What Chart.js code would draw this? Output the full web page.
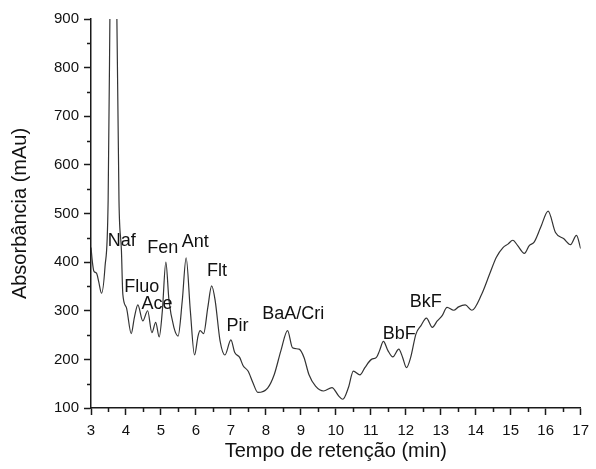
<!DOCTYPE html>
<html lang="pt">
<head>
<meta charset="UTF-8">
<title>Cromatograma</title>
<script src="https://cdn.jsdelivr.net/npm/chart.js"></script>
<style>
    body { margin: 0; padding: 0; background: #fff; }
    #wrap { width: 596px; height: 469px; }
</style>
</head>
<body>
<div id="wrap"><canvas id="chart"></canvas></div>
<script>
    // retention time (min) and absorbance (mAu)
    const time = [3.00, 3.04, 3.08, 3.16, 3.22, 3.30, 3.40, 3.49, 3.54, 3.64, 3.74, 3.80, 3.87, 3.91,
        4.01, 4.15, 4.24, 4.34, 4.48, 4.62, 4.74, 4.85, 4.95, 5.04, 5.14, 5.23, 5.37, 5.49, 5.61,
        5.72, 5.84, 5.96, 6.06, 6.12, 6.22, 6.34, 6.45, 6.55, 6.69, 6.83, 7.00, 7.11, 7.25, 7.35,
        7.49, 7.63, 7.77, 8.05, 8.24, 8.43, 8.62, 8.76, 8.95, 9.09, 9.23, 9.42, 9.65, 9.89, 10.08,
        10.20, 10.36, 10.50, 10.69, 10.83, 11.02, 11.16, 11.25, 11.36, 11.49, 11.63, 11.80, 11.91,
        12.02, 12.14, 12.29, 12.43, 12.59, 12.76, 12.90, 13.04, 13.18, 13.37, 13.51, 13.70, 13.89,
        14.17, 14.40, 14.59, 14.78, 14.92, 15.06, 15.20, 15.39, 15.53, 15.67, 15.86, 16.07, 16.28,
        16.52, 16.71, 16.88, 17.00];
    const absorb = [430, 400, 382, 377, 360, 336, 390, 527, 900, 1800, 900, 527, 424, 334,
        307, 253, 286, 312, 279, 300, 255, 276, 246, 300, 400, 321, 266, 248, 321,
        409, 300, 209, 248, 259, 253, 307, 351, 321, 238, 209, 240, 214, 204, 187,
        176, 152, 132, 141, 169, 218, 259, 224, 221, 204, 169, 145, 135, 142, 125,
        118, 142, 176, 168, 183, 200, 204, 218, 237, 218, 205, 221, 204,
        183, 204, 252, 269, 285, 266, 279, 290, 307, 301, 308, 312, 301,
        334, 376, 410, 430, 437, 445, 434, 418, 434, 441, 472, 505, 461,
        448, 436, 455, 428];

    // peak labels and where their text sits (data units)
    const peakNames = ['Naf', 'Fluo', 'Ace', 'Fen', 'Ant', 'Flt', 'Pir', 'BaA/Cri', 'BbF', 'BkF'];
    const peakTime = [3.88, 4.45, 4.89, 5.05, 5.98, 6.60, 7.19, 8.78, 11.81, 12.57];
    const peakAbs = [444, 348, 314, 430, 442, 382, 269, 293, 252, 317];

    const FONT = "'Liberation Sans', Arial, sans-serif";
    const INK = '#1a1a1a';

    const minorTicks = {
        id: 'minorTicks',
        afterDraw(chart) {
            const ctx = chart.ctx;
            const xs = chart.scales.x, ys = chart.scales.y;
            ctx.save();
            ctx.strokeStyle = INK;
            ctx.lineWidth = 1.5;
            ctx.beginPath();
            for (let v = 150; v < 900; v += 100) {
                const py = Math.round(ys.getPixelForValue(v)) + 0.5;
                ctx.moveTo(xs.left, py);
                ctx.lineTo(xs.left - 4, py);
            }
            for (let v = 3.5; v < 17; v += 1) {
                const px = Math.round(xs.getPixelForValue(v)) + 0.5;
                ctx.moveTo(px, ys.bottom);
                ctx.lineTo(px, ys.bottom + 4);
            }
            ctx.stroke();

            // peak names
            ctx.fillStyle = '#111';
            ctx.font = '18px ' + FONT;
            ctx.textAlign = 'center';
            ctx.textBaseline = 'middle';
            peakNames.forEach((n, i) => {
                ctx.fillText(n, xs.getPixelForValue(peakTime[i]), ys.getPixelForValue(peakAbs[i]));
            });
            ctx.restore();
        }
    };

    new Chart(document.getElementById('chart'), {
        type: 'line',
        data: {
            datasets: [{
                data: time.map((t, i) => ({ x: t, y: absorb[i] })),
                borderColor: '#333',
                borderWidth: 1.2,
                pointRadius: 0,
                cubicInterpolationMode: 'monotone',
                fill: false
            }]
        },
        options: {
            responsive: true,
            maintainAspectRatio: false,
            animation: false,
            layout: { padding: { top: 19, right: 9, left: 0, bottom: 0 } },
            plugins: { legend: { display: false }, tooltip: { enabled: false } },
            scales: {
                x: {
                    type: 'linear',
                    min: 3, max: 17,
                    afterFit: s => { s.height = 61; },
                    border: { color: INK, width: 1.5 },
                    grid: { drawOnChartArea: false, tickLength: 7, tickColor: INK, tickWidth: 1.5 },
                    ticks: { stepSize: 1, color: '#111', padding: 7, maxRotation: 0,
                        font: { family: FONT, size: 15 } },
                    title: { display: true, text: 'Tempo de retenção (min)', color: '#111',
                        font: { family: FONT, size: 20 }, padding: { top: 0, bottom: 6 } }
                },
                y: {
                    min: 100, max: 900,
                    afterFit: s => { s.width = 91; },
                    border: { color: INK, width: 1.5 },
                    grid: { drawOnChartArea: false, tickLength: 7, tickColor: INK, tickWidth: 1.5 },
                    ticks: { stepSize: 100, color: '#111', padding: 5,
                        font: { family: FONT, size: 15 } },
                    title: { display: true, text: 'Absorbância (mAu)', color: '#111',
                        font: { family: FONT, size: 20 }, padding: { top: 8, bottom: 0 } }
                }
            }
        },
        plugins: [minorTicks]
    });
</script>
</body>
</html>
